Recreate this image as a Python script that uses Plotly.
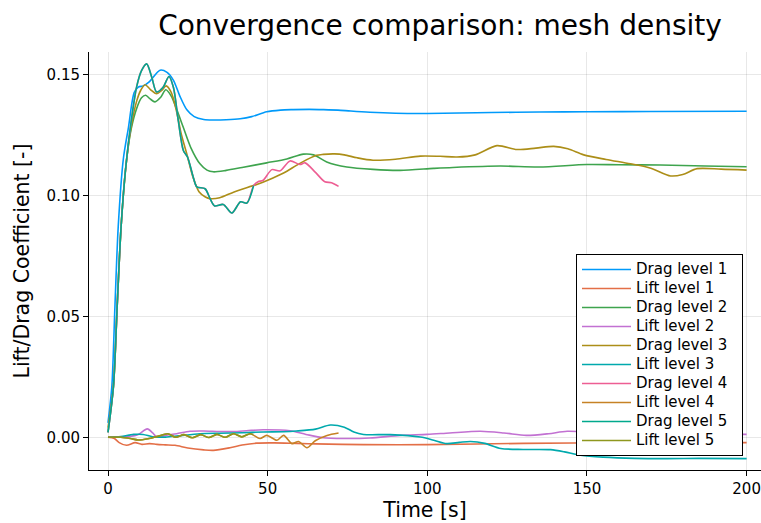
import plotly.graph_objects as go

# ---- time histories of the force coefficients for each mesh level ----

# Drag, level 1 (coarsest mesh)
t_drag1 = [0, 1.2, 2.2, 3.2, 4.8, 6.4, 8.2, 9.5, 11, 13, 16.3, 18.5, 20.5, 22.5, 24.7,
           27, 30, 33, 37, 41.4, 45, 49.7, 54, 58, 63, 67.5, 72, 76, 82, 90, 100,
           110, 120, 135, 150, 170, 200]
drag1 = [0.006, 0.021, 0.055, 0.087, 0.115, 0.128, 0.1424, 0.1447, 0.1452, 0.147, 0.1517,
         0.1508, 0.1475, 0.141, 0.1353, 0.1325, 0.1313, 0.1311, 0.1312, 0.1316, 0.1325,
         0.1345, 0.1352, 0.1354, 0.1355, 0.1354, 0.1352, 0.1348, 0.1343, 0.1339, 0.1338,
         0.134, 0.1342, 0.1344, 0.1345, 0.1346, 0.1347]

# Lift, level 1
t_lift1 = [0, 2, 3.5, 5.8, 8.5, 10.6, 13, 15.3, 18, 21, 25, 30, 33, 38.2, 42, 46.6,
           52, 59, 65, 80, 100, 130, 160, 200]
lift1 = [0, -0.0005, -0.0022, -0.0033, -0.0022, -0.0029, -0.0026, -0.0029, -0.0031,
         -0.0033, -0.0044, -0.0052, -0.0054, -0.0043, -0.0032, -0.0024, -0.0023, -0.0025,
         -0.0027, -0.003, -0.003, -0.0025, -0.0022, -0.0022]

# Drag, level 2
t_drag2 = [0, 1.7, 2.9, 4.1, 5.6, 7.2, 9, 10.5, 11.8, 13.2, 14.7, 16.5, 18.1, 19.8, 21.5,
           23.6, 26, 28.8, 31, 33, 37, 42, 49.7, 56, 61.2, 64.4, 68.5, 74.8, 83, 91.5,
           101.9, 108, 122.9, 135, 150, 160, 173, 187, 200]
drag2 = [0.002, 0.021, 0.055, 0.087, 0.112, 0.127, 0.136, 0.1403, 0.1413, 0.1398, 0.1386,
         0.1405, 0.1436, 0.141, 0.1355, 0.128, 0.1195, 0.113, 0.1104, 0.1097, 0.1103,
         0.1115, 0.1134, 0.115, 0.117, 0.1167, 0.1138, 0.1117, 0.1107, 0.1103, 0.1111,
         0.1115, 0.1121, 0.1117, 0.1127, 0.1126, 0.1125, 0.1121, 0.1118]

# Lift, level 2
t_lift2 = [0, 3, 6.9, 9.5, 12.3, 14, 15.3, 18, 21.5, 25.7, 30, 35, 39.3, 44, 48.6, 57,
           62, 67.4, 73.8, 82, 91.5, 100, 107, 116.6, 124, 131, 138, 143.8, 155, 170,
           185, 200]
lift2 = [0, 0.0002, 0.0004, 0.0012, 0.0035, 0.0018, 0.0001, 0.0008, 0.0015, 0.0025,
         0.0026, 0.0024, 0.0024, 0.0028, 0.0031, 0.0027, 0.0012, -0.0002, -0.0005,
         -0.0003, 0.0008, 0.0012, 0.0018, 0.0025, 0.0018, 0.0008, 0.0015, 0.0025,
         0.0018, 0.0012, 0.0015, 0.0012]

# Drag, level 3
t_drag3 = [0, 1.7, 2.9, 4.1, 5.6, 7.2, 9, 10.3, 11.6, 13.2, 15.2, 16.8, 18.2, 19.8, 21.5,
           23, 24.7, 26.5, 28.5, 30.5, 32, 35, 39.3, 46.6, 50, 55, 60.1, 65.3, 67.4, 71,
           74, 78, 83, 90, 97.8, 104, 109.3, 115, 121.8, 128.1, 134, 139.6, 144, 149,
           156, 163.6, 170, 176.2, 180, 184.5, 192, 200]
drag3 = [0.004, 0.021, 0.055, 0.087, 0.112, 0.128, 0.139, 0.1435, 0.1457, 0.1438, 0.142,
         0.1433, 0.1452, 0.1425, 0.1345, 0.125, 0.117, 0.108, 0.1015, 0.0993, 0.0986,
         0.099, 0.1013, 0.1045, 0.1062, 0.1092, 0.1132, 0.1165, 0.1169, 0.1171, 0.1167,
         0.1155, 0.1145, 0.1149, 0.1162, 0.1161, 0.1158, 0.1167, 0.1205, 0.1189, 0.1195,
         0.1202, 0.1192, 0.1167, 0.1148, 0.113, 0.1112, 0.108, 0.1086, 0.111, 0.1108,
         0.1104]

# Lift, level 3
t_lift3 = [0, 4, 8, 11, 14, 18, 22, 28.8, 35, 42, 48.6, 55, 59, 65, 69.6, 74, 77, 80,
           88.4, 97.8, 102, 106, 110, 113.5, 118, 123, 130, 138.6, 143, 148, 155, 165,
           175, 185, 200]
lift3 = [0, 0.0003, 0.0012, 0.0012, 0.0002, 0.0001, 0.0006, 0.0015, 0.0017, 0.0019,
         0.0022, 0.0023, 0.0026, 0.0034, 0.0051, 0.0042, 0.0022, 0.0012, 0.0011, 0.0001,
         -0.0012, -0.0026, -0.0021, -0.0017, -0.0025, -0.0046, -0.005, -0.0051, -0.006,
         -0.0074, -0.0082, -0.0087, -0.0088, -0.0087, -0.0088]

# Drag, level 4
t_drag4 = [0, 1.7, 2.9, 4.1, 5.6, 7.2, 9, 10.5, 12.1, 13.7, 15.2, 17.2, 19.1, 20.5, 22,
           23.6, 24.9, 26.7, 27.8, 30.4, 32, 33.4, 36.1, 38.8, 41.5, 43.5, 45.6, 47,
           48.6, 51.3, 53.9, 57, 60.1, 61.7, 64.8, 67.9, 70, 72.2]
drag4 = [0.002, 0.021, 0.055, 0.087, 0.112, 0.13, 0.145, 0.1515, 0.1543, 0.1488, 0.1427,
         0.1445, 0.1491, 0.1445, 0.131, 0.1185, 0.1158, 0.1075, 0.1035, 0.1027, 0.0985,
         0.0956, 0.0962, 0.0927, 0.0973, 0.0968, 0.104, 0.1056, 0.1062, 0.1106, 0.1101,
         0.1142, 0.1127, 0.1134, 0.1097, 0.1056, 0.1052, 0.1037]

# Lift, level 4
t_lift4 = [0, 4, 7, 9.5, 12.5, 15.5, 18.7, 21.2, 23.8, 26.4, 29, 31.6, 34.1, 36.7, 39.3,
           41.9, 44.5, 47.6, 49.7, 52.9, 55, 57.6, 59.7, 62.3, 64.9, 68.6, 72.2]
lift4 = [0, 0, -0.0005, -0.0011, -0.0006, 0.0004, 0.0015, 0.0, 0.0011, -0.0002, 0.0011,
         -0.0001, 0.0012, 0.0, 0.0015, 0.0002, 0.0015, -0.0005, 0.0008, -0.0012, 0.0008,
         -0.0026, -0.0017, -0.0043, -0.0014, 0.0008, 0.0018]

# Drag, level 5 (finest mesh, shorter run)
t_drag5 = [0, 1.7, 2.9, 4.1, 5.6, 7.2, 9, 10.5, 12.1, 13.7, 15.2, 17.2, 19.1, 20.5, 22,
           23.6, 24.9, 26.7, 27.8, 30.4, 32, 33.4, 36.1, 38.8, 41.5, 43.5, 45.6]
drag5 = [0.002, 0.021, 0.055, 0.087, 0.112, 0.13, 0.145, 0.1515, 0.1543, 0.1488, 0.1427,
         0.1445, 0.1491, 0.1445, 0.131, 0.1185, 0.1158, 0.1075, 0.1035, 0.1027, 0.0985,
         0.0956, 0.0962, 0.0927, 0.0973, 0.0968, 0.104]

# Lift, level 5
t_lift5 = [0, 4, 7, 9.5, 12.5, 15.5, 18.7, 21.2, 23.8, 26.4, 29, 31.6, 34.1, 36.7, 39.3,
           41.9, 44.5, 45.5]
lift5 = [0, 0, -0.0005, -0.0011, -0.0006, 0.0004, 0.0015, 0.0, 0.0011, -0.0002, 0.0011,
         -0.0001, 0.0012, 0.0, 0.0015, 0.0002, 0.0015, 0.0012]

series_names = ["Drag level 1", "Lift level 1", "Drag level 2", "Lift level 2",
                "Drag level 3", "Lift level 3", "Drag level 4", "Lift level 4",
                "Drag level 5", "Lift level 5"]
series_t = [t_drag1, t_lift1, t_drag2, t_lift2, t_drag3, t_lift3,
            t_drag4, t_lift4, t_drag5, t_lift5]
series_y = [drag1, lift1, drag2, lift2, drag3, lift3, drag4, lift4, drag5, lift5]

# default palette of Julia's Plots.jl
palette = ["#009AFA", "#E36F47", "#3EA44E", "#C271D2", "#AC8E18",
           "#00A9AD", "#ED5E93", "#C68225", "#00A98D", "#8E971E"]

x_ticks = [0, 50, 100, 150, 200]
y_ticks = [0.0, 0.05, 0.10, 0.15]
y_tick_text = ["0.00", "0.05", "0.10", "0.15"]

FONT = "DejaVu Sans"
# legend labels at 15 px, with a little padding on the right of the box
LEGEND_TEXT = '<span style="font-size:15px">{}&nbsp;&nbsp;</span>'

fig = go.Figure()
for name, tt, yy, col in zip(series_names, series_t, series_y, palette):
    fig.add_trace(go.Scatter(
        x=tt, y=yy, name=LEGEND_TEXT.format(name), mode="lines",
        line=dict(color=col, width=1.6, shape="spline", smoothing=0.8),
    ))

grid = "rgba(0,0,0,0.09)"
fig.update_layout(
    width=761, height=523,
    margin=dict(l=89, r=0, t=52, b=53),
    paper_bgcolor="white", plot_bgcolor="white",
    font=dict(family=FONT, color="black", size=15),
    title=dict(text="Convergence comparison: mesh density",
               x=440 / 761, xref="container", xanchor="center",
               y=1 - 25 / 523, yref="container", yanchor="middle",
               font=dict(size=28, family=FONT, color="black")),
    xaxis=dict(range=[-5.95, 204.5], tickvals=x_ticks,
               showgrid=True, gridcolor=grid, gridwidth=1, zeroline=False,
               showline=True, linecolor="black", linewidth=1,
               ticks="outside", ticklen=5, tickcolor="black",
               tickfont=dict(size=15),
               title=dict(text="Time [s]", font=dict(size=20.5), standoff=3)),
    yaxis=dict(range=[-0.0135, 0.1592], tickvals=y_ticks, ticktext=y_tick_text,
               showgrid=True, gridcolor=grid, gridwidth=1, zeroline=False,
               showline=True, linecolor="black", linewidth=1,
               ticks="outside", ticklen=5, tickcolor="black",
               tickfont=dict(size=15),
               title=dict(text="Lift/Drag Coefficient [-]", font=dict(size=20.5),
                          standoff=11)),
    legend=dict(x=(743 - 89) / 672, xanchor="right", y=14 / 418, yanchor="bottom",
                bgcolor="white", bordercolor="black", borderwidth=1,
                font=dict(size=12, family=FONT), itemwidth=49,
                tracegroupgap=0),
    showlegend=True,
)

fig.write_html("out.html")
